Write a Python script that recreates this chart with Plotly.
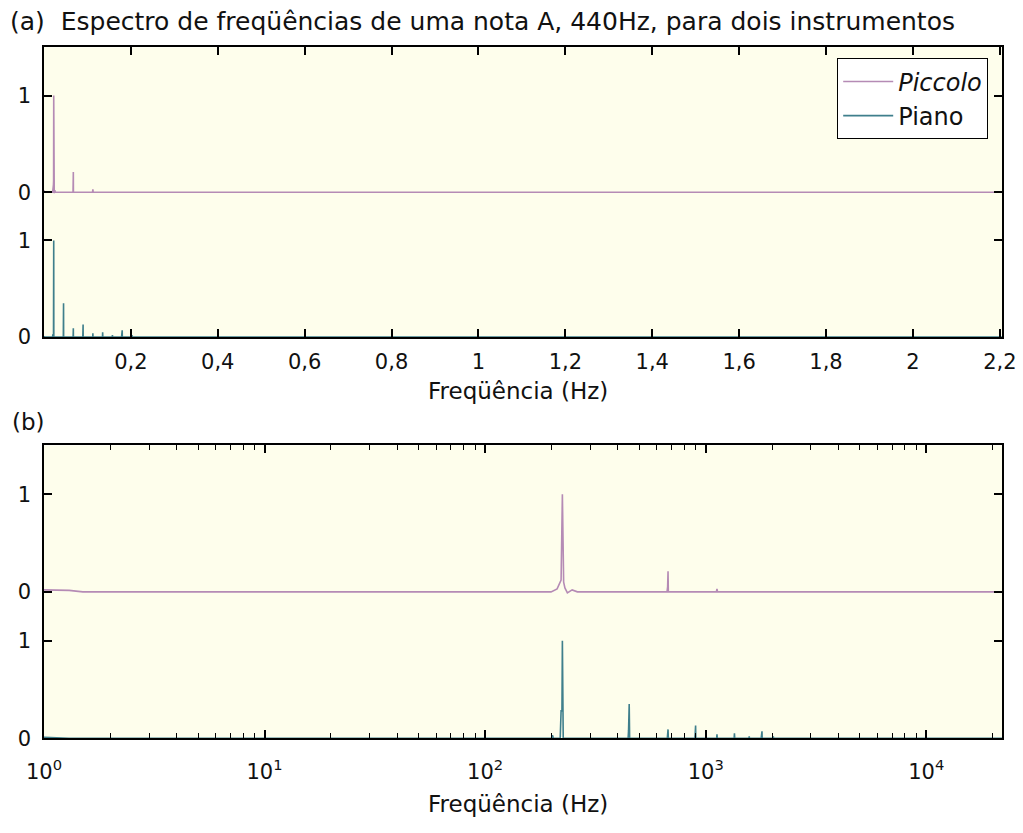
import numpy as np
import plotly.graph_objects as go

# Normalised magnitude spectra (frequency in Hz, magnitude relative to the fundamental)
piccolo_hz = [1, 1.3, 1.5, 199, 212, 218, 221, 224, 227, 230, 236, 248, 262,
              668, 672, 675, 677, 1118, 1125, 1132, 22050]
piccolo_mag = [0.02, 0.015, 0, 0, 0.03, 0.08, 0.12, 1.0, 0.1, 0.04, -0.01, 0.02, 0,
               0, 0.05, 0.21, 0, 0, 0.03, 0, 0]

piano_hz = [1, 1.3, 200, 202, 204, 219, 221, 223, 224, 226,
            445, 447, 450, 452, 670, 672, 675, 677, 893, 896, 900, 902,
            1122, 1125, 1128, 1346, 1350, 1354, 1571, 1575, 1579,
            1785, 1790, 1800, 1803, 2020, 2025, 2030, 22050]
piano_mag = [0.01, 0, 0, 0.03, 0, 0, 0.28, 0.28, 1.0, 0,
             0, 0.08, 0.35, 0, 0, 0.03, 0.09, 0, 0, 0.04, 0.13, 0,
             0, 0.04, 0, 0, 0.05, 0, 0, 0.02, 0,
             0, 0.03, 0.07, 0, 0, 0.02, 0, 0]

# vertical offset of the piccolo curve so both spectra share one axis
piccolo_offset = 1.5

lin_ticks = [0.2, 0.4, 0.6, 0.8, 1.0, 1.2, 1.4, 1.6, 1.8, 2.0, 2.2]
lin_tick_text = ["0,2", "0,4", "0,6", "0,8", "1", "1,2", "1,4", "1,6", "1,8", "2", "2,2"]
log_ticks = [1, 10, 100, 1000, 10000]
log_tick_text = ["10<sup>0</sup>", "10<sup>1</sup>", "10<sup>2</sup>",
                 "10<sup>3</sup>", "10<sup>4</sup>"]
y_ticks = [0, 1, piccolo_offset, piccolo_offset + 1]
y_tick_text = ["0", "1", "0", "1"]

PICCOLO = "#b58bb5"
PIANO = "#3f7f8c"
FONT = "DejaVu Sans"
W, H = 1023, 833

pic_hz = np.array(piccolo_hz)
pic_y = np.array(piccolo_mag) + piccolo_offset
pia_hz = np.array(piano_hz)
pia_y = np.array(piano_mag)

fig = go.Figure()
# (a) linear frequency axis, in units of 10^4 Hz
fig.add_trace(go.Scatter(x=pic_hz / 1e4, y=pic_y, mode="lines", name="<i>Piccolo</i>",
                         line=dict(color=PICCOLO, width=1.6), xaxis="x", yaxis="y"))
fig.add_trace(go.Scatter(x=pia_hz / 1e4, y=pia_y, mode="lines", name="Piano",
                         line=dict(color=PIANO, width=1.6), xaxis="x", yaxis="y"))
# (b) logarithmic frequency axis
fig.add_trace(go.Scatter(x=pic_hz, y=pic_y, mode="lines", showlegend=False,
                         line=dict(color=PICCOLO, width=1.6), xaxis="x2", yaxis="y2"))
fig.add_trace(go.Scatter(x=pia_hz, y=pia_y, mode="lines", showlegend=False,
                         line=dict(color=PIANO, width=1.6), xaxis="x2", yaxis="y2"))

frame = dict(showline=True, linecolor="black", linewidth=1.5, mirror="allticks",
             ticks="inside", ticklen=8, tickwidth=1.5, tickcolor="black",
             showgrid=False, zeroline=False, tickfont=dict(family=FONT, size=21, color="#111"))

ya_top, ya_bot = 48, 342
yb_top, yb_bot = 452, 749
left, right = 44, 1002
plot_w = right - left


def px_x(px):
    """Horizontal pixel position -> paper fraction (paper spans the plot area)."""
    return (px - left) / plot_w


def px_y(py):
    return (H - py) / H


fig.update_layout(
    width=W, height=H,
    margin=dict(l=left, r=W - right, t=0, b=0),
    paper_bgcolor="white", plot_bgcolor="#fefeec",
    font=dict(family=FONT, size=23, color="#111"),
    xaxis=dict(domain=[0, 1], anchor="y", range=[0, 2.205], tickvals=lin_ticks,
               ticktext=lin_tick_text, ticklabelstandoff=5, **frame),
    yaxis=dict(domain=[px_y(ya_bot), px_y(ya_top)], anchor="x", range=[0, 3],
               tickvals=y_ticks, ticktext=y_tick_text, ticklabelstandoff=7, **frame),
    xaxis2=dict(domain=[0, 1], anchor="y2", type="log", range=[0, np.log10(22050)],
                tickvals=log_ticks, ticktext=log_tick_text, ticklabelstandoff=14,
                minor=dict(ticks="inside", ticklen=5, tickwidth=1.2, tickcolor="black",
                           dtick="D1", showgrid=False),
                **frame),
    yaxis2=dict(domain=[px_y(yb_bot), px_y(yb_top)], anchor="x2", range=[0, 3],
                tickvals=y_ticks, ticktext=y_tick_text, ticklabelstandoff=7, **frame),
    legend=dict(x=px_x(988), y=px_y(59), xanchor="right", yanchor="top",
                bgcolor="white", bordercolor="black", borderwidth=1.2,
                itemwidth=50,
                font=dict(family=FONT, size=24, color="#111")),
    showlegend=True,
)


def label(text, x, y, xanchor="left", size=23):
    fig.add_annotation(text=text, x=px_x(x), y=px_y(y), xref="paper", yref="paper",
                       xanchor=xanchor, yanchor="middle", showarrow=False,
                       font=dict(family=FONT, size=size, color="#111"))


label("(a)  Espectro de freqüências de uma nota A, 440Hz, para dois instrumentos", 8, 22, size=25)
label("Freqüência (Hz)", 518, 397, "center")
label("(b)", 10, 428)
label("Freqüência (Hz)", 518, 816, "center")

fig.write_html("out.html")
